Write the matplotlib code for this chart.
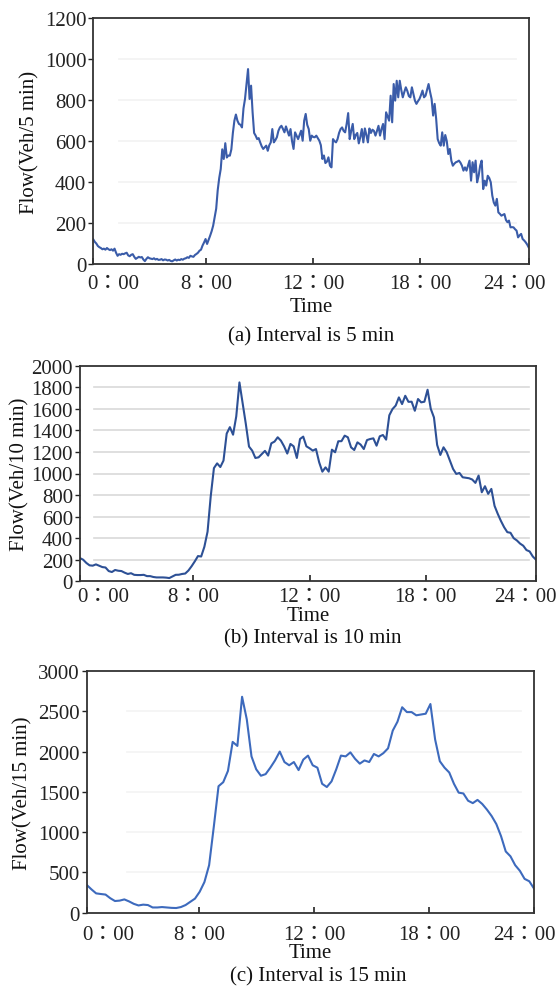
import matplotlib
matplotlib.use("Agg")
import matplotlib.pyplot as plt
from matplotlib.transforms import ScaledTranslation

plt.rcParams['font.family'] = ['Liberation Serif', 'Noto Sans CJK TC', 'DejaVu Sans']

# ---------------- data ----------------
tick_labels = ["0：00", "8：00", "12：00", "18：00", "24：00"]

flow_5min = [
    120, 108, 100, 88, 82, 78, 72, 75, 70, 78, 72, 68, 72, 65, 75, 55, 40, 48, 45, 50,
    48, 52, 55, 42, 38, 45, 48, 35, 25, 30, 35, 32, 34, 22, 14, 25, 33, 28, 26, 24,
    28, 22, 25, 20, 21, 24, 18, 22, 21, 17, 20, 15, 13, 18, 22, 17, 21, 19, 24, 21,
    26, 28, 33, 30, 40, 37, 35, 44, 49, 55, 65, 70, 90, 105, 122, 98, 118, 138, 160, 187,
    230, 270, 360, 420, 464, 560, 513, 590, 520, 530, 529, 560, 640, 700, 730, 700, 684, 680, 667, 760,
    806, 880, 952, 806, 871, 741, 640, 627, 610, 615, 594, 575, 562, 570, 578, 553, 580, 594, 659, 594,
    605, 619, 650, 667, 675, 660, 643, 672, 650, 627, 659, 600, 562, 643, 627, 610, 630, 651, 602, 700,
    733, 680, 659, 602, 627, 620, 619, 627, 615, 602, 580, 513, 530, 493, 500, 521, 480, 472, 610, 600,
    594, 610, 640, 659, 667, 650, 643, 684, 737, 610, 650, 684, 610, 630, 640, 589, 620, 659, 594, 662,
    630, 594, 662, 640, 656, 650, 627, 650, 675, 627, 660, 684, 610, 741, 720, 700, 822, 692, 879, 798,
    895, 814, 895, 850, 814, 840, 863, 845, 820, 814, 863, 830, 798, 782, 795, 806, 825, 847, 814, 822,
    850, 879, 840, 806, 725, 782, 709, 610, 590, 578, 643, 578, 630, 600, 537, 562, 505, 480, 490, 497,
    500, 505, 495, 480, 456, 472, 456, 480, 505, 407, 497, 448, 505, 399, 431, 480, 505, 366, 407, 383,
    431, 420, 399, 334, 300, 285, 318, 252, 245, 236, 240, 244, 215, 204, 212, 179, 180, 179, 170, 163,
    130, 140, 147, 122, 115, 106, 95, 81,
]

flow_10min = [
    215, 200, 170, 148, 145, 157, 145, 132, 128, 95, 86, 105, 98, 95, 80, 68, 75, 60, 58, 58,
    60, 48, 48, 40, 36, 36, 36, 34, 30, 45, 60, 61, 68, 72, 100, 140, 185, 234, 230, 320,
    460, 790, 1050, 1094, 1060, 1120, 1370, 1430, 1360, 1530, 1845, 1650, 1460, 1250, 1212, 1144, 1150, 1180, 1210, 1166,
    1280, 1296, 1336, 1305, 1252, 1185, 1274, 1252, 1144, 1320, 1342, 1252, 1234, 1212, 1227, 1104, 1017, 1057, 1017, 1221,
    1197, 1299, 1300, 1351, 1336, 1243, 1218, 1289, 1268, 1227, 1310, 1320, 1326, 1258, 1345, 1357, 1314, 1540, 1598, 1630,
    1706, 1644, 1721, 1665, 1666, 1582, 1691, 1660, 1666, 1777, 1600, 1520, 1265, 1172, 1243, 1197, 1120, 1042, 996, 1005,
    965, 960, 956, 944, 913, 981, 826, 882, 811, 857, 700, 626, 560, 502, 456, 450, 400, 379, 350, 330,
    290, 277, 230, 200,
]

flow_15min = [
    345, 290, 240, 232, 225, 180, 145, 150, 165, 140, 110, 90, 100, 95, 65, 65, 70, 65, 60, 58,
    70, 95, 135, 175, 260, 380, 590, 1070, 1570, 1620, 1760, 2120, 2070, 2680, 2400, 1940, 1780, 1700, 1720, 1800,
    1890, 2000, 1870, 1830, 1870, 1770, 1900, 1950, 1830, 1800, 1600, 1560, 1630, 1780, 1950, 1940, 1990, 1910, 1850, 1890,
    1870, 1970, 1940, 1980, 2040, 2260, 2370, 2550, 2490, 2490, 2450, 2460, 2470, 2590, 2150, 1880, 1800, 1740, 1600, 1490,
    1480, 1390, 1360, 1400, 1350, 1280, 1200, 1100, 950, 760, 700, 590, 520, 420, 390, 300,
]

panels = [
    dict(y=flow_5min, ylabel="Flow(Veh/5 min)", caption="(a) Interval is 5 min",
         ymax=1200, ystep=200, frac=[0, 0.259, 0.505, 0.751, 1.0],
         rect=[93.3, 19.3, 528.7, 265.0], color="#3a5ca9",
         grid="#f2f2f2", gx=(0.06, 0.97), xpad=7.5, edge=(-6, 17),
         ylab_x=30, time_y=307, cap_y=337, cap_x=311),
    dict(y=flow_10min, ylabel="Flow(Veh/10 min)", caption="(b) Interval is 10 min",
         ymax=2000, ystep=200, frac=[0, 0.248, 0.504, 0.758, 1.0],
         rect=[80.0, 366.7, 536.0, 582.3], color="#2d5095",
         grid="#d9d9d9", gx=(0.03, 0.985), xpad=4.0, edge=(-3, 21),
         ylab_x=20, time_y=617, cap_y=639, cap_x=313),
    dict(y=flow_15min, ylabel="Flow(Veh/15 min)", caption="(c) Interval is 15 min",
         ymax=3000, ystep=500, frac=[0, 0.252, 0.509, 0.765, 1.0],
         rect=[86.7, 672.0, 534.0, 913.7], color="#3d6abd",
         grid="#f3f3f3", gx=(0.09, 0.97), xpad=9, edge=(-4, 22),
         ylab_x=23, time_y=954, cap_y=977, cap_x=318),
]

W, H = 559, 987
fig = plt.figure(figsize=(W / 100, H / 100), dpi=100)
fs = 15

for p in panels:
    l, t, r, b = p["rect"]
    ax = fig.add_axes([l / W, 1 - b / H, (r - l) / W, (b - t) / H])
    n = len(p["y"])
    xs = list(range(n))
    ax.plot(xs, p["y"], color=p["color"], lw=1.5, solid_joinstyle="round")
    ax.set_xlim(0, n - 1)
    ax.set_ylim(0, p["ymax"])
    yt = list(range(0, p["ymax"] + 1, p["ystep"]))
    ax.set_yticks(yt)
    ax.set_yticklabels([str(v) for v in yt], fontsize=fs, family="Liberation Serif")
    for v in yt[1:-1]:
        ax.axhline(v, xmin=p["gx"][0], xmax=p["gx"][1], color=p["grid"], lw=1.2, zorder=0)
    ax.set_xticks([f * (n - 1) for f in p["frac"]])
    ax.set_xticklabels(tick_labels, fontsize=fs, family=["Liberation Serif", "Noto Sans CJK TC"])
    ax.tick_params(axis="x", direction="in", length=4, width=1.2, pad=p["xpad"], colors="#222222")
    ax.tick_params(axis="y", direction="out", length=3.5, width=1.0, pad=1.5, colors="#222222")
    labs = ax.get_xticklabels()
    labs[0].set_horizontalalignment("left")
    labs[0].set_transform(labs[0].get_transform() +
                          ScaledTranslation(p["edge"][0] / 100, 0, fig.dpi_scale_trans))
    labs[-1].set_horizontalalignment("right")
    labs[-1].set_transform(labs[-1].get_transform() +
                           ScaledTranslation(p["edge"][1] / 100, 0, fig.dpi_scale_trans))
    for s in ax.spines.values():
        s.set_linewidth(1.3)
        s.set_color("#333333")
    fig.text(p["ylab_x"] / W, 1 - ((t + b) / 2) / H, p["ylabel"], rotation=90,
             ha="center", va="center", fontsize=fs, color="#111111")
    fig.text(((l + r) / 2) / W, 1 - p["time_y"] / H, "Time", ha="center", va="center",
             fontsize=fs, color="#111111")
    fig.text(p["cap_x"] / W, 1 - p["cap_y"] / H, p["caption"], ha="center", va="center",
             fontsize=fs, color="#111111")

fig.savefig("out.png", dpi=100)
